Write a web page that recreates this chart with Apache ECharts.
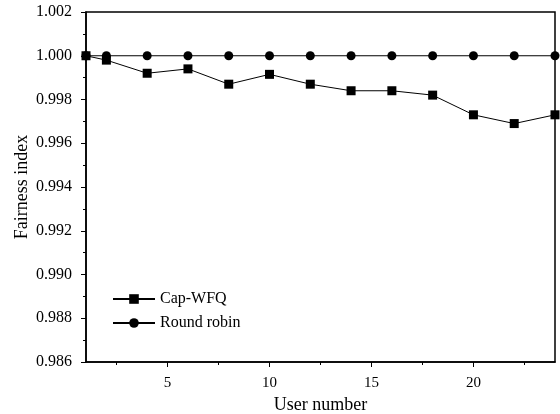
<!DOCTYPE html>
<html><head><meta charset="utf-8">
<script src="https://cdn.jsdelivr.net/npm/echarts@6/dist/echarts.min.js"></script>
<style>html,body{margin:0;padding:0;background:#fff}#c{width:560px;height:414px}</style>
</head><body><div id="c"></div>
<script>
const users = [1, 2, 4, 6, 8, 10, 12, 14, 16, 18, 20, 22, 24];
const capWFQ = [1.0000, 0.9998, 0.9992, 0.9994, 0.9987, 0.99915, 0.9987, 0.9984, 0.9984, 0.9982, 0.9973, 0.9969, 0.9973];
const roundRobin = [1.0000, 1.0000, 1.0000, 1.0000, 1.0000, 1.0000, 1.0000, 1.0000, 1.0000, 1.0000, 1.0000, 1.0000, 1.0000];
const xMajorTicks = [5, 10, 15, 20];
const xMinorTicks = [2.5, 7.5, 12.5, 17.5, 22.5];
const seriesNames = ['Cap-WFQ', 'Round robin'];

const font = 'Liberation Serif';
const chart = echarts.init(document.getElementById('c'), null, {renderer: 'canvas'});
chart.setOption({
  animation: false,
  backgroundColor: '#fff',
  grid: {left: 86, right: 5, top: 12, bottom: 52, show: true, borderColor: '#000', borderWidth: 1.5,
    outerBoundsMode: 'none', containLabel: false},
  legend: {
    left: 107, top: 286, orient: 'vertical', itemGap: 8,
    itemWidth: 42, itemHeight: 12,
    textStyle: {fontFamily: font, fontSize: 16, color: '#000'},
    data: seriesNames
  },
  xAxis: [{
    type: 'value', min: 1, max: 24,
    name: 'User number', nameLocation: 'middle', nameGap: 34,
    nameTextStyle: {fontFamily: font, fontSize: 18, color: '#000'},
    axisLine: {show: true, lineStyle: {color: '#000', width: 1.5}},
    axisTick: {show: true, customValues: xMajorTicks, length: 5, lineStyle: {color: '#000'}},
    axisLabel: {customValues: xMajorTicks, fontFamily: font, fontSize: 15, color: '#000', margin: 14},
    splitLine: {show: false}
  }, {
    type: 'value', min: 1, max: 24, position: 'bottom',
    axisLine: {show: false},
    axisTick: {show: true, customValues: xMinorTicks, length: 3, lineStyle: {color: '#000'}},
    axisLabel: {show: false},
    splitLine: {show: false}
  }],
  yAxis: {
    type: 'value', min: 0.986, max: 1.002, interval: 0.002,
    name: 'Fairness index', nameLocation: 'middle', nameGap: 55, nameMoveOverlap: false,
    nameTextStyle: {fontFamily: font, fontSize: 18, color: '#000'},
    axisLine: {show: true, lineStyle: {color: '#000', width: 1.5}},
    axisTick: {show: true, length: 5, lineStyle: {color: '#000'}},
    minorTick: {show: true, splitNumber: 2, length: 3, lineStyle: {color: '#000'}},
    axisLabel: {fontFamily: font, fontSize: 16, color: '#000', margin: 14,
      formatter: v => v.toFixed(3)},
    splitLine: {show: false}
  },
  series: [{
    name: seriesNames[0], type: 'line',
    data: users.map((u, i) => [u, capWFQ[i]]),
    symbol: 'rect', symbolSize: 9,
    itemStyle: {color: '#000'}, lineStyle: {color: '#000', width: 1}
  }, {
    name: seriesNames[1], type: 'line',
    data: users.map((u, i) => [u, roundRobin[i]]),
    symbol: 'circle', symbolSize: 9,
    itemStyle: {color: '#000'}, lineStyle: {color: '#000', width: 1}
  }]
});
</script></body></html>
